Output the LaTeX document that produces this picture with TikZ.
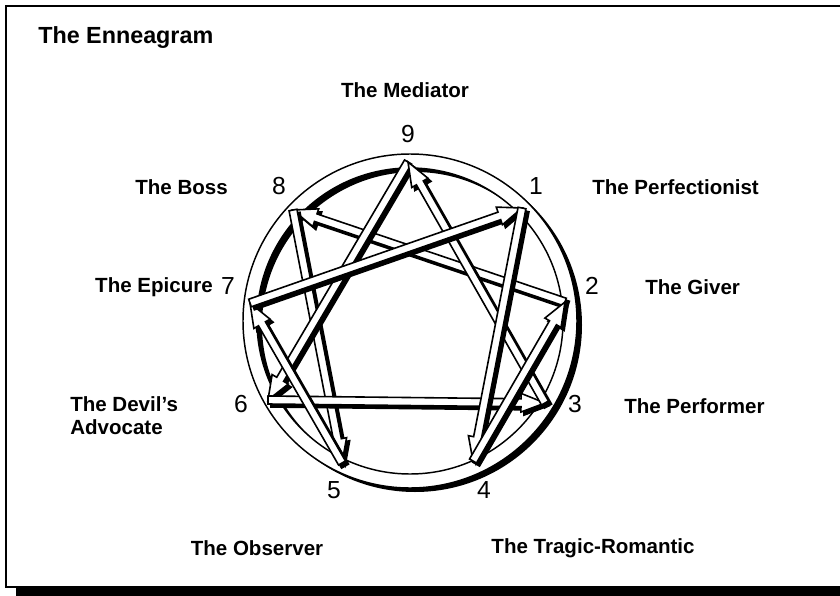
\documentclass[tikz,border=0pt]{standalone}
\usepackage{fontspec}
\setmainfont{Liberation Sans}
\usetikzlibrary{calc}
\def\bw{3pt}
\def\hw{7pt}
\def\hl{18pt}
\newcommand\ennband[2]{%
  \coordinate (hb) at ($(#2)!\hl!(#1)$);
  \coordinate (a1) at ($(#1)!\bw!90:(#2)$);
  \coordinate (a2) at ($(#1)!\bw!-90:(#2)$);
  \coordinate (b1) at ($(hb)!\bw!90:(#2)$);
  \coordinate (b2) at ($(hb)!\bw!-90:(#2)$);
  \coordinate (c1) at ($(hb)!\hw!90:(#2)$);
  \coordinate (c2) at ($(hb)!\hw!-90:(#2)$);
  \begin{scope}[transform canvas={xshift=2.3pt,yshift=-2.3pt}]
    \filldraw[black, line width=1.2pt, line join=miter] (a1) -- (b1) -- (c1) -- (#2) -- (c2) -- (b2) -- (a2) -- cycle;
  \end{scope}
  \filldraw[bandfill] (a1) -- (b1) -- (c1) -- (#2) -- (c2) -- (b2) -- (a2) -- cycle;
}
\begin{document}
\begin{tikzpicture}[x=0.75pt,y=-0.75pt,
  lbl/.style={font=\fontsize{15.4}{17.5}\selectfont\bfseries, inner sep=0pt},
  num/.style={font=\fontsize{18.5}{20}\selectfont, inner sep=0pt},
  ttl/.style={font=\fontsize{17.5}{21}\selectfont\bfseries, inner sep=0pt},
  bandfill/.style={fill=white, draw=black, line width=1.2pt, line join=miter, miter limit=6},
]
\useasboundingbox (0,0) rectangle (840,596);
\fill[white] (0,0) rectangle (840,596);
% frame with shadow
\draw[line width=1.5pt] (850,6) -- (6,6) -- (6,587) -- (850,587);
\fill[black] (16,588) rectangle (850,600);
% title
\node[ttl, anchor=west] (title) at (38,38) {The Enneagram};
% ring
\coordinate (ctr) at (410,321);
\coordinate (ctrs) at (415,325);
\fill[black, even odd rule] (ctrs) circle[radius=125.25pt] (ctrs) circle[radius=114.75pt];
\filldraw[fill=white, even odd rule, line width=1.1pt] (ctr) circle[radius=125.25pt] (ctr) circle[radius=114.75pt];
% points
\coordinate (p9) at (408,162);
\coordinate (p1) at (522,208);
\coordinate (p2) at (565,302);
\coordinate (p3) at (545,403);
\coordinate (p4) at (473,461);
\coordinate (p5) at (342,463);
\coordinate (p6) at (268,400);
\coordinate (p7) at (250,303);
\coordinate (p8) at (293,210);
% bands
\ennband{p2}{p8}
\ennband{p8}{p5}
\ennband{p9}{p6}
\ennband{p6}{p3}
\ennband{p5}{p7}
\ennband{p3}{p9}
\ennband{p7}{p1}
\ennband{p1}{p4}
\ennband{p4}{p2}
% numbers
\node[num] (n9) at (408,134) {9};
\node[num] (n1) at (536,186) {1};
\node[num] (n2) at (592,286) {2};
\node[num] (n3) at (575,404) {3};
\node[num] (n4) at (484,490) {4};
\node[num] (n5) at (334,490) {5};
\node[num] (n6) at (241,404) {6};
\node[num] (n7) at (228,286) {7};
\node[num] (n8) at (279,186) {8};
% labels
\node[lbl] (l9) at (405,90) {The Mediator};
\node[lbl, anchor=west] (l1) at (592,187) {The Perfectionist};
\node[lbl, anchor=west] (l2) at (645,287) {The Giver};
\node[lbl, anchor=west] (l3) at (624,406) {The Performer};
\node[lbl] (l4) at (593,548) {The Tragic-Romantic};
\node[lbl] (l5) at (257,548) {The Observer};
\node[lbl, anchor=north west, align=left] (l6) at (70,396) {The Devil’s\\Advocate};
\node[lbl, anchor=east] (l7) at (213,287) {The Epicure};
\node[lbl, anchor=east] (l8) at (228,187) {The Boss};
\end{tikzpicture}
\end{document}
